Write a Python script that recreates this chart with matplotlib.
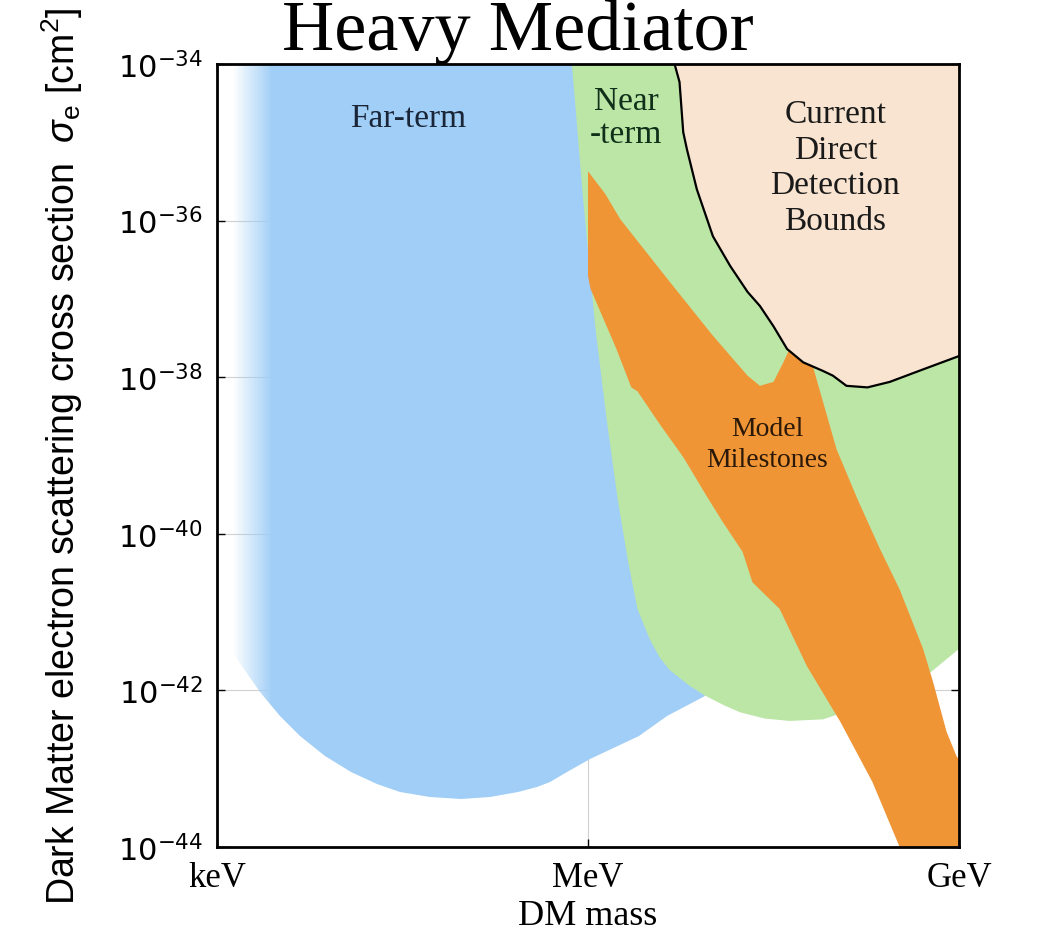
import numpy as np
import matplotlib
matplotlib.use('Agg')
import matplotlib.pyplot as plt
from matplotlib.patches import Polygon
from matplotlib.colors import LinearSegmentedColormap, to_rgb

# --- Dados: log10(massa DM / eV), log10(sigma_e / cm^2) ---
x_ticks = [3, 6, 9]
x_tick_labels = ['keV', 'MeV', 'GeV']
y_ticks = [-34, -36, -38, -40, -42, -44]

# Far-term (azul)
far_x = [3.00, 6.20, 6.50, 6.70, 6.95, 6.64, 6.41, 6.02, 5.83, 5.69, 5.59, 5.43, 5.21,
         4.97, 4.72, 4.48, 4.29, 4.08, 3.87, 3.67, 3.51, 3.35, 3.16, 3.00]
far_y = [-34.00, -34.00, -38.50, -41.00, -42.07, -42.33, -42.58, -42.88, -43.04, -43.17, -43.23, -43.30, -43.36,
         -43.39, -43.36, -43.30, -43.20, -43.04, -42.84, -42.58, -42.33, -42.02, -41.60, -41.25]
# faixa esquerda onde o azul desbota para branco
fade_start, fade_end = 3.13, 3.45

# Near-term (verde)
near_x = [5.87, 9.00, 9.00, 8.77, 8.28, 7.90, 7.63, 7.43, 7.23, 7.10, 6.95, 6.82, 6.66,
          6.58, 6.50, 6.40, 6.32, 6.24, 6.15, 6.06, 5.96]
near_y = [-34.00, -34.00, -41.47, -41.77, -42.17, -42.37, -42.39, -42.36, -42.28, -42.19, -42.07, -41.94, -41.74,
          -41.58, -41.35, -40.96, -40.32, -39.56, -38.53, -37.38, -35.72]

# Model milestones (laranja)
model_x = [6.00, 6.14, 6.26, 6.66, 7.01, 7.29, 7.39, 7.50, 7.58, 7.63, 7.82,
           7.82, 8.01, 8.18, 8.36, 8.52, 8.71, 8.79, 8.90, 8.98, 9.00, 9.00,
           8.52, 8.30, 8.04, 7.77, 7.55, 7.33, 7.25, 7.09, 6.96, 6.77, 6.58,
           6.40, 6.35, 6.23, 6.02, 6.00]
model_y = [-35.37, -35.66, -35.98, -36.78, -37.47, -37.98, -38.11, -38.06, -37.81, -37.64, -37.64,
           -37.87, -38.92, -39.56, -40.19, -40.71, -41.47, -41.89, -42.53, -42.84, -42.88, -44.00,
           -44.00, -43.17, -42.40, -41.69, -40.96, -40.62, -40.23, -39.85, -39.52, -39.02, -38.60,
           -38.18, -38.13, -37.64, -36.87, -36.71]

# Current direct detection bounds (bege)
current_x = [6.70, 6.74, 6.77, 6.80, 6.88, 7.01, 7.15, 7.29, 7.39, 7.50, 7.61,
             7.74, 7.90, 7.98, 8.09, 8.26, 8.44, 8.71, 9.00, 9.00]
current_y = [-34.00, -34.23, -34.87, -35.09, -35.60, -36.20, -36.58, -36.91, -37.09, -37.35, -37.64,
             -37.81, -37.92, -37.98, -38.11, -38.13, -38.06, -37.90, -37.73, -34.00]

COR_AZUL = '#a0cef6'
COR_VERDE = '#bce6a6'
COR_LARANJA = '#f09536'
COR_BEGE = '#f8e4d0'


def poly(lx, ly):
    return np.column_stack((10.0 ** np.array(lx), 10.0 ** np.array(ly)))


plt.rcParams['mathtext.fontset'] = 'custom'
plt.rcParams['mathtext.rm'] = 'Liberation Sans'
plt.rcParams['mathtext.it'] = 'Liberation Sans:italic'

fig = plt.figure(figsize=(10.4, 9.37), dpi=100)
ax = fig.add_axes([0.2087, 0.0950, 0.7134, 0.8356])
ax.set_xscale('log')
ax.set_yscale('log')

# Far-term: malha com transparencia crescente, recortada pelo poligono
far_patch = Polygon(poly(far_x, far_y), closed=True, facecolor='none', edgecolor='none', zorder=1)
ax.add_patch(far_patch)
rgb = to_rgb(COR_AZUL)
cmap_fade = LinearSegmentedColormap.from_list('fade', [(*rgb, 0.0), (*rgb, 1.0)])
bordas = np.linspace(3, 9, 601)
centros = 0.5 * (bordas[:-1] + bordas[1:])
nivel = np.clip((centros - fade_start) / (fade_end - fade_start), 0, 1)[np.newaxis, :]
malha = ax.pcolormesh(10.0 ** bordas, 10.0 ** np.array([-44.0, -34.0]), nivel,
                      cmap=cmap_fade, vmin=0, vmax=1, shading='flat', zorder=1,
                      edgecolors='none', antialiased=False)
malha.set_clip_path(far_patch)

ax.add_patch(Polygon(poly(near_x, near_y), closed=True, facecolor=COR_VERDE, edgecolor='none', zorder=2))
ax.add_patch(Polygon(poly(model_x, model_y), closed=True, facecolor=COR_LARANJA, edgecolor='none', zorder=3))
ax.add_patch(Polygon(poly(current_x, current_y), closed=True, facecolor=COR_BEGE, edgecolor='none', zorder=4))
ax.plot(10.0 ** np.array(current_x[:-1]), 10.0 ** np.array(current_y[:-1]), color='black', lw=1.6, zorder=5)

ax.set_xlim(1e3, 1e9)
ax.set_ylim(1e-44, 1e-34)
ax.set_xticks([10.0 ** v for v in x_ticks])
ax.set_xticklabels(x_tick_labels, family='Liberation Serif', fontsize=25)
ax.set_yticks([10.0 ** v for v in y_ticks])
ax.set_yticklabels([r'$\mathregular{10^{%d}}$' % v for v in y_ticks], fontsize=22)
ax.minorticks_off()
ax.tick_params(direction='in', length=6, width=1, top=True, right=True)
ax.tick_params(axis='x', pad=10)
ax.tick_params(axis='y', pad=10)
ax.grid(True, color='#d0d0d0', lw=0.8)
ax.set_axisbelow(True)
for s in ax.spines.values():
    s.set_linewidth(2)
    s.set_zorder(10)

ax.set_xlabel('DM mass', family='Liberation Serif', fontsize=26, labelpad=4)
ax.set_ylabel(r'Dark Matter electron scattering cross section  $\sigma_{\mathrm{e}}$ [cm$^{2}$]',
              family='Liberation Sans', fontsize=27)
ax.yaxis.set_label_coords(-0.178, 0.5)

serif = 'Liberation Serif'
ax.text(10 ** 4.545, 10 ** -34.68, 'Far-term', family=serif, fontsize=24, color='#1a2638',
        ha='center', va='center', zorder=6)
ax.text(10 ** 6.31, 10 ** -34.68, 'Near\n-term', family=serif, fontsize=24, color='#10301a',
        ha='center', va='center', linespacing=1.12, zorder=6)
ax.text(10 ** 8.0, 10 ** -35.32, 'Current\nDirect\nDetection\nBounds', family=serif, fontsize=24,
        color='#1a1a1a', ha='center', va='center', linespacing=1.22, zorder=6)
ax.text(10 ** 7.45, 10 ** -38.85, 'Model\nMilestones', family=serif, fontsize=20, color='#2a1808',
        ha='center', va='center', linespacing=1.3, zorder=6)

fig.text(0.498, 1 - 50 / 937, 'Heavy Mediator', family=serif, fontsize=52, color='black',
         ha='center', va='baseline', zorder=20)

fig.savefig('out.png', dpi=100)
